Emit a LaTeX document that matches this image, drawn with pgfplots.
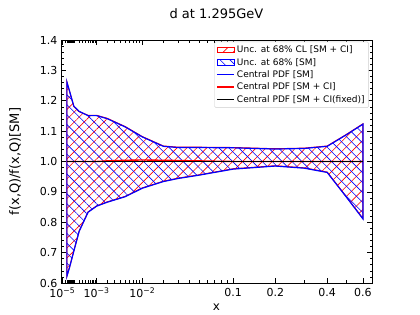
\documentclass[border=0pt]{standalone}
\usepackage{fontspec}
\setmainfont{DejaVu Sans}
\usepackage{pgfplots}
\pgfplotsset{compat=1.18}
\usepackage{pgfplotstable}
\usepgfplotslibrary{fillbetween}
\usetikzlibrary{patterns.meta,calc}

\pgfplotstableread{
x      up     lo
3e-5   1.262  0.622
5e-5   1.232  0.651
1e-4   1.182  0.705
2e-4   1.165  0.770
5e-4   1.151  0.833
1e-3   1.151  0.853
2e-3   1.141  0.866
5e-3   1.114  0.884
1e-2   1.081  0.912
2e-2   1.050  0.934
3e-2   1.046  0.944
5e-2   1.046  0.955
0.1    1.045  0.975
0.2    1.041  0.985
0.3    1.043  0.978
0.4    1.050  0.964
0.5    1.088  0.883
0.6    1.123  0.811
}\smband

\pgfplotstableread{
x      up     lo
3e-5   1.261  0.623
5e-5   1.231  0.652
1e-4   1.181  0.706
2e-4   1.164  0.771
5e-4   1.152  0.834
1e-3   1.152  0.854
2e-3   1.142  0.867
5e-3   1.115  0.885
1e-2   1.082  0.913
2e-2   1.051  0.935
3e-2   1.047  0.945
5e-2   1.047  0.956
0.1    1.046  0.976
0.2    1.042  0.986
0.3    1.044  0.979
0.4    1.051  0.965
0.5    1.089  0.884
0.6    1.124  0.812
}\ciband

\pgfplotstableread{
x      y
3e-5   1.000
1e-3   1.000
2e-3   1.002
5e-3   1.004
1e-2   1.005
2e-2   1.004
5e-2   1.002
0.07   1.001
0.1    1.000
0.6    1.000
}\cicentral

\pgfplotstableread{
x      y
3e-5   1.0
0.6    1.0
}\smcentral

\pgfplotstableread{
x      y
3e-5   1.0
0.6    1.0
}\cifixed

\begin{document}
\begin{tikzpicture}
\begin{axis}[
  scale only axis,
  width=311pt, height=243pt,
  x coord trafo/.code={\begingroup\pgfkeys{/pgf/fpu=true,/pgf/fpu/output format=fixed}\pgfmathparse{(#1)^0.3}\xdef\mytrafo{\pgfmathresult}\endgroup\let\pgfmathresult\mytrafo},
  x coord inv trafo/.code={\begingroup\pgfkeys{/pgf/fpu=true,/pgf/fpu/output format=fixed}\pgfmathparse{(#1)^(3.3333333)}\xdef\mytrafo{\pgfmathresult}\endgroup\let\pgfmathresult\mytrafo},
  xmin=6.5e-6, xmax=0.66,
  ymin=0.6, ymax=1.4,
  xtick={1e-5,1e-3,1e-2,0.1,0.2,0.4,0.6},
  xticklabels={10\textsuperscript{−5},10\textsuperscript{−3},10\textsuperscript{−2},0.1,0.2,0.4,0.6},
  minor xtick={2e-5,3e-5,4e-5,5e-5,6e-5,7e-5,8e-5,9e-5,1e-4,2e-4,3e-4,4e-4,5e-4,6e-4,7e-4,8e-4,9e-4,2e-3,3e-3,4e-3,5e-3,6e-3,7e-3,8e-3,9e-3,0.02,0.03,0.04,0.05,0.06,0.07,0.08,0.09,0.3,0.5},
  ytick={0.6,0.7,...,1.41},
  minor y tick num=4,
  yticklabel style={/pgf/number format/.cd,fixed,fixed zerofill,precision=1},
  xticklabel style={yshift=-1.5pt},
  /pgf/number format/assume math mode=true,
  tick label style={font=\fontsize{11}{12}\selectfont},
  tick align=inside,
  xtick pos=both, ytick pos=both,
  major tick length=5pt, minor tick length=2.5pt,
  every tick/.style={black, line width=0.6pt},
  axis line style={line width=0.8pt},
  title={d at 1.295GeV},
  title style={font=\fontsize{13}{15}\selectfont, yshift=12pt},
  xlabel={x},
  ylabel={f(x,Q)/f(x,Q)[SM]},
  xlabel style={font=\fontsize{12}{14}\selectfont, yshift=1pt},
  ylabel style={font=\fontsize{13}{15}\selectfont, at={(axis description cs:-0.148,0.5)}, anchor=center},
  legend cell align=left,
  legend image post style={sharp corners},
  legend style={at={(0.99,0.993)}, anchor=north east, draw=black!20, rounded corners=1.5pt,
    font=\fontsize{9}{10}\selectfont, row sep=0pt, inner sep=2pt},
  clip=true,
]
\addplot[draw=none, name path=ciU, forget plot] table[x=x,y=up]{\ciband};
\addplot[draw=none, name path=ciL, forget plot] table[x=x,y=lo]{\ciband};
\addplot[draw=red, line width=1pt, area legend, pattern={Lines[angle=45,distance=7pt,line width=0.6pt]}, pattern color=red] fill between[of=ciU and ciL];
\addlegendentry{Unc. at 68\% CL [SM + CI]}
\addplot[draw=none, name path=smU, forget plot] table[x=x,y=up]{\smband};
\addplot[draw=none, name path=smL, forget plot] table[x=x,y=lo]{\smband};
\addplot[draw=blue, line width=1.2pt, area legend, pattern={Lines[angle=-45,distance=7pt,line width=0.6pt]}, pattern color=blue] fill between[of=smU and smL];
\addlegendentry{Unc. at 68\% [SM]}
\addplot[blue, line width=1pt] table[x=x,y=y]{\smcentral};
\addlegendentry{Central PDF [SM]}
\addplot[red, line width=1.4pt] table[x=x,y=y]{\cicentral};
\addlegendentry{Central PDF [SM + CI]}
\addplot[black, line width=1.2pt] table[x=x,y=y]{\cifixed};
\addlegendentry{Central PDF [SM + CI(fixed)]}
\end{axis}
\pgfresetboundingbox
\path ($(current axis.south west)+(-61pt,-32pt)$) rectangle ($(current axis.north east)+(48pt,40pt)$);
\end{tikzpicture}
\end{document}
